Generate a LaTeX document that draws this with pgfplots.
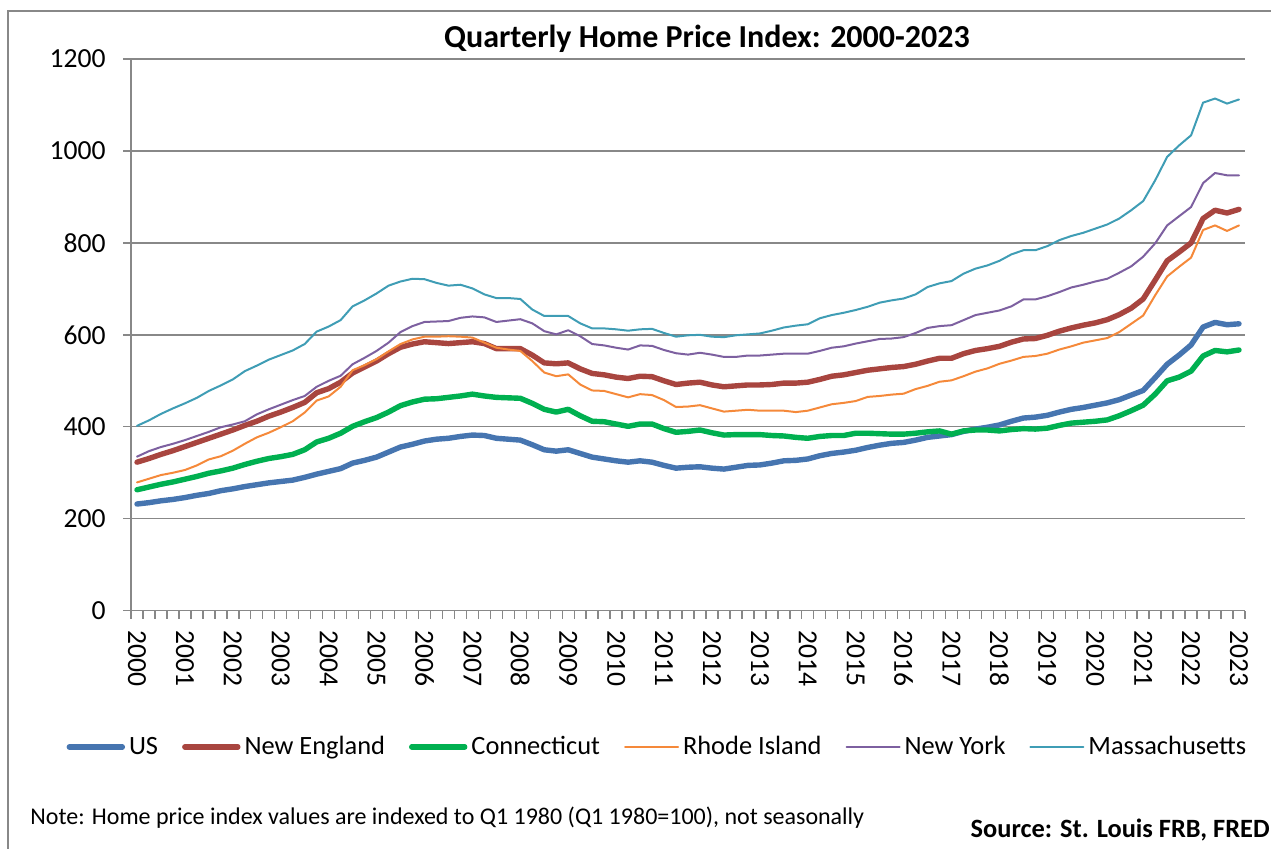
\documentclass[border=0pt]{standalone}
\usepackage{fontspec}
\setmainfont{Carlito}
\usepackage{pgfplots}
\usepackage{pgfplotstable}
\pgfplotsset{compat=1.18}
\definecolor{cUS}{HTML}{4675B0}
\definecolor{cNE}{HTML}{A8453F}
\definecolor{cCT}{HTML}{00B050}
\definecolor{cRI}{HTML}{F5893A}
\definecolor{cNY}{HTML}{7D60A0}
\definecolor{cMA}{HTML}{3F9DB5}
\definecolor{axgray}{HTML}{888888}

\pgfplotstableread{
i us ne ct ri ny ma
0 232 323 263 279 335 402
1 235 331 269 287 347 414
2 239 340 275 295 356 428
3 242 348 280 300 363 440
4 246 357 286 306 371 451
5 251 366 292 316 380 463
6 255 375 299 329 389 478
7 261 384 304 336 399 490
8 265 393 310 348 405 503
9 270 403 318 363 412 521
10 274 412 325 377 427 533
11 278 423 331 387 438 546
12 281 432 335 399 448 556
13 284 442 340 412 458 566
14 290 453 350 431 467 580
15 297 474 367 457 487 607
16 303 483 375 466 500 618
17 309 497 386 487 511 632
18 321 517 401 523 536 662
19 327 530 411 534 550 675
20 334 543 420 547 565 690
21 345 559 432 564 583 707
22 356 573 446 580 606 716
23 362 580 454 590 619 722
24 369 585 460 596 628 721
25 373 583 461 596 629 713
26 375 581 464 597 630 707
27 379 583 467 596 637 709
28 382 585 471 594 640 701
29 381 581 467 583 638 688
30 375 570 464 572 628 680
31 373 570 463 568 631 680
32 371 570 462 565 634 678
33 361 556 451 543 625 655
34 350 539 438 518 608 641
35 347 537 432 510 601 641
36 350 539 438 514 610 641
37 342 526 424 492 597 625
38 334 516 412 479 580 614
39 330 513 411 478 577 614
40 326 508 406 471 572 612
41 323 505 401 464 568 609
42 326 510 406 471 577 612
43 323 509 406 469 576 613
44 316 500 396 458 567 604
45 310 492 388 443 560 596
46 312 495 390 444 557 599
47 313 497 393 447 561 600
48 310 491 387 440 557 596
49 308 487 382 433 552 595
50 312 489 383 435 552 599
51 316 491 383 437 555 601
52 317 491 383 435 555 603
53 321 492 381 435 557 609
54 326 495 380 435 559 616
55 327 495 377 432 559 620
56 330 497 375 435 559 623
57 337 503 379 442 565 636
58 342 510 381 449 572 643
59 345 513 381 452 575 648
60 349 518 386 456 581 654
61 355 523 386 465 586 661
62 360 526 385 467 591 670
63 364 529 384 470 592 675
64 366 531 384 472 595 679
65 371 536 386 482 604 688
66 377 543 389 489 615 704
67 380 549 391 498 619 712
68 383 549 384 501 621 717
69 390 559 391 510 632 733
70 395 566 393 520 643 744
71 399 570 393 527 648 751
72 404 575 391 537 653 761
73 412 584 394 544 662 775
74 419 591 396 552 677 784
75 421 592 395 554 677 784
76 425 599 397 559 684 793
77 432 608 403 568 693 806
78 438 615 408 575 703 815
79 442 621 410 583 709 822
80 447 626 412 588 716 831
81 452 633 415 593 722 840
82 459 644 424 606 735 853
83 469 658 435 624 749 871
84 479 678 447 642 770 891
85 507 719 471 686 799 936
86 536 761 500 727 838 987
87 556 780 508 748 858 1012
88 578 800 521 768 878 1034
89 617 853 554 828 930 1105
90 627 871 566 838 952 1114
91 622 865 563 826 947 1103
92 624 873 567 838 947 1112
}\datatable

\begin{document}
\begin{tikzpicture}
\useasboundingbox (0pt,0pt) rectangle (635.5pt,424.5pt);
\draw[color=axgray, line width=0.7pt] (4pt,-5pt) -- (4pt,419pt) -- (640pt,419pt);
\begin{axis}[
  at={(65.5pt,119.15pt)}, anchor=south west,
  scale only axis, width=557pt, height=275.85pt,
  xmin=-0.5, xmax=92.5, ymin=0, ymax=1200,
  ytick={0,200,...,1200},
  xtick={-0.5,0.5,...,92.5}, xticklabels={},
  extra x ticks={0,4,...,92},
  extra x tick labels={2000,2001,2002,2003,2004,2005,2006,2007,2008,2009,2010,2011,2012,2013,2014,2015,2016,2017,2018,2019,2020,2021,2022,2023},
  extra x tick style={major tick length=0pt},
  axis x line*=bottom, axis y line*=left,
  axis line style={color=axgray, line width=0.8pt},
  ymajorgrids, grid style={color=axgray, line width=0.7pt},
  tick align=outside, major tick length=4pt,
  tick style={color=axgray, line width=0.7pt},
  /pgf/number format/1000 sep={},
  /pgf/number format/assume math mode=true,
  tick label style={font=\fontsize{13.8}{15}\selectfont, text=black},
  xticklabel style={rotate=-90, anchor=west, inner sep=0pt},
  yticklabel style={anchor=east, inner sep=0pt},
  xticklabel shift=9.5pt,
  yticklabel shift=8.5pt,
  legend columns=6,
  legend style={draw=none, fill=none, at={(0.4735,-0.247)}, anchor=center,
    font=\fontsize{13.2}{15}\selectfont,
    /tikz/every even column/.append style={column sep=10pt}},
  legend image code/.code={\draw[#1, line cap=round] (0pt,0pt) -- (26.5pt,0pt);},
  every axis plot/.append style={line join=round, line cap=round},
]
\addplot[color=cUS, line width=2.7pt] table[x=i, y=us] {\datatable};
\addlegendentry{US}
\addplot[color=cNE, line width=2.7pt] table[x=i, y=ne] {\datatable};
\addlegendentry{New England}
\addplot[color=cCT, line width=2.7pt] table[x=i, y=ct] {\datatable};
\addlegendentry{Connecticut}
\addplot[color=cRI, line width=1pt] table[x=i, y=ri] {\datatable};
\addlegendentry{Rhode Island}
\addplot[color=cNY, line width=1pt] table[x=i, y=ny] {\datatable};
\addlegendentry{New York}
\addplot[color=cMA, line width=1pt] table[x=i, y=ma] {\datatable};
\addlegendentry{Massachusetts}
\end{axis}
\node[font=\bfseries\fontsize{16}{19}\selectfont] at (353.5pt,405pt) {Quarterly Home Price Index: 2000-2023};
\node[anchor=west, inner sep=0pt, font=\fontsize{12}{14}\selectfont] at (15pt,15.5pt) {Note: Home price index values are indexed to Q1 1980 (Q1 1980=100), not seasonally};
\node[anchor=east, inner sep=0pt, font=\bfseries\fontsize{13.2}{15}\selectfont] at (635pt,9.5pt) {Source: St. Louis FRB, FRED};
\end{tikzpicture}
\end{document}
